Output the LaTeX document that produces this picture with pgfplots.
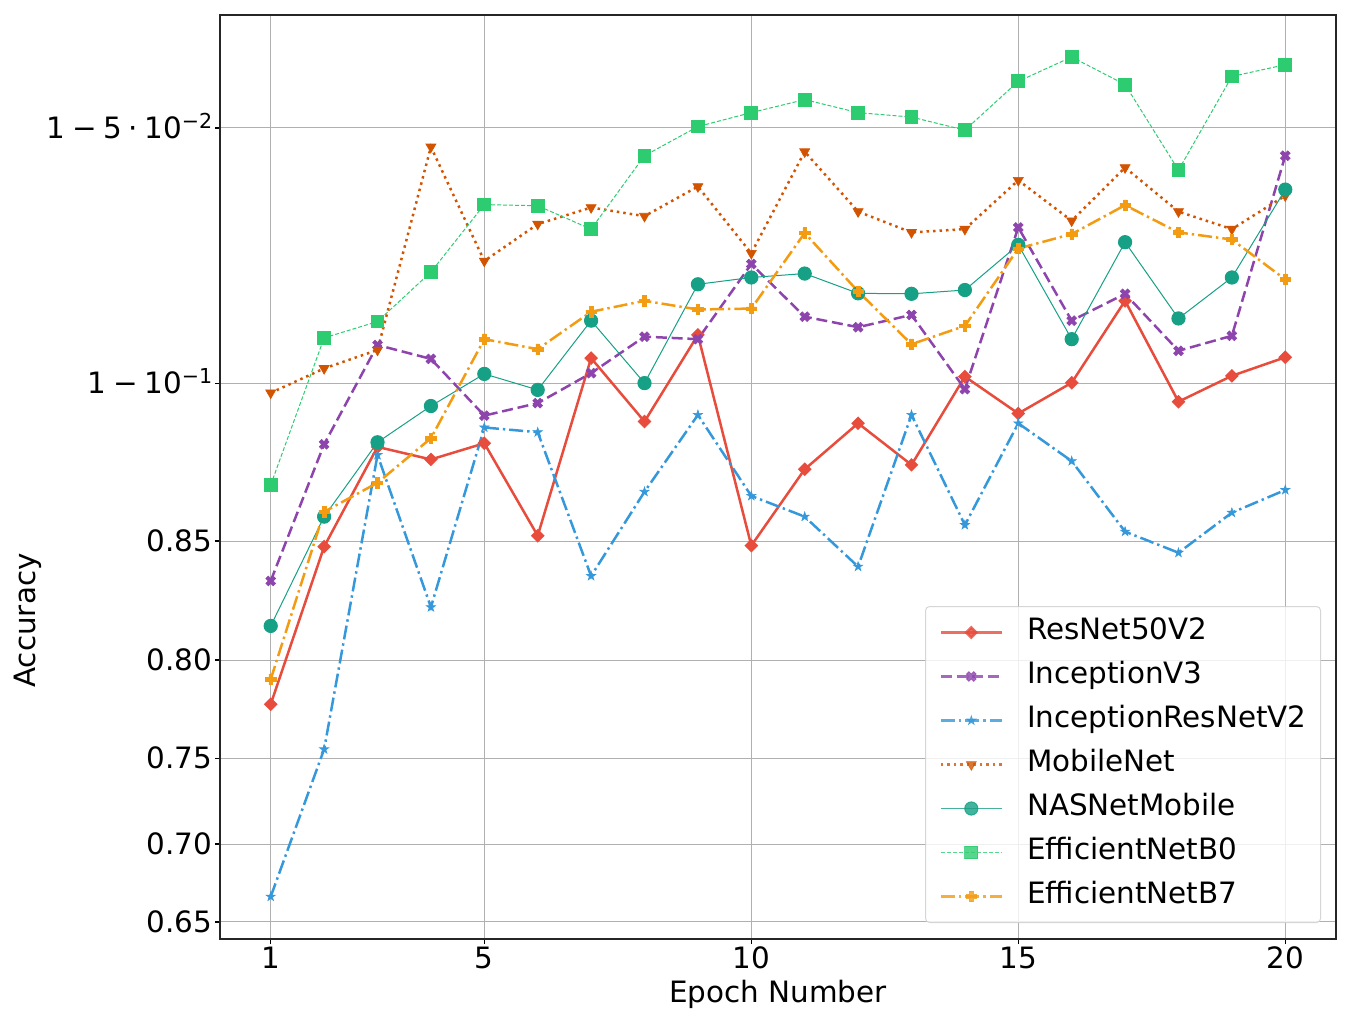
\documentclass[border=0pt]{standalone}
\usepackage{pgfplots}
\pgfplotsset{compat=1.18}
\usepackage{pgfplotstable}
\usepackage{fontspec}
\setmainfont{DejaVu Sans}
\usetikzlibrary{plotmarks}

\definecolor{cR}{RGB}{231,76,60}
\definecolor{cI}{RGB}{142,68,173}
\definecolor{cIR}{RGB}{52,152,219}
\definecolor{cM}{RGB}{211,84,0}
\definecolor{cN}{RGB}{22,160,133}
\definecolor{cB0}{RGB}{46,204,113}
\definecolor{cB7}{RGB}{243,156,18}
\definecolor{gridc}{RGB}{176,176,176}
\definecolor{legc}{RGB}{204,204,204}

\newcommand\sups[1]{\raisebox{5pt}{\fontsize{10.3}{12}\selectfont #1}}
\newcommand\ff{\fontsize{14.7}{17.6}\selectfont}
\newcommand\tsp{\hspace{3.3pt}}

\pgfdeclareplotmark{Pfill}{%
 \pgfpathmoveto{\pgfqpoint{-0.3333\pgfplotmarksize}{-\pgfplotmarksize}}%
 \pgfpathlineto{\pgfqpoint{-0.3333\pgfplotmarksize}{-0.3333\pgfplotmarksize}}%
 \pgfpathlineto{\pgfqpoint{-\pgfplotmarksize}{-0.3333\pgfplotmarksize}}%
 \pgfpathlineto{\pgfqpoint{-\pgfplotmarksize}{0.3333\pgfplotmarksize}}%
 \pgfpathlineto{\pgfqpoint{-0.3333\pgfplotmarksize}{0.3333\pgfplotmarksize}}%
 \pgfpathlineto{\pgfqpoint{-0.3333\pgfplotmarksize}{\pgfplotmarksize}}%
 \pgfpathlineto{\pgfqpoint{0.3333\pgfplotmarksize}{\pgfplotmarksize}}%
 \pgfpathlineto{\pgfqpoint{0.3333\pgfplotmarksize}{0.3333\pgfplotmarksize}}%
 \pgfpathlineto{\pgfqpoint{\pgfplotmarksize}{0.3333\pgfplotmarksize}}%
 \pgfpathlineto{\pgfqpoint{\pgfplotmarksize}{-0.3333\pgfplotmarksize}}%
 \pgfpathlineto{\pgfqpoint{0.3333\pgfplotmarksize}{-0.3333\pgfplotmarksize}}%
 \pgfpathlineto{\pgfqpoint{0.3333\pgfplotmarksize}{-\pgfplotmarksize}}%
 \pgfpathclose\pgfusepathqfillstroke}

\pgfdeclareplotmark{Sfill}{%
 \pgfpathmoveto{\pgfqpoint{0pt}{\pgfplotmarksize}}%
 \pgfpathlineto{\pgfqpoint{-0.2245\pgfplotmarksize}{0.3090\pgfplotmarksize}}%
 \pgfpathlineto{\pgfqpoint{-0.9511\pgfplotmarksize}{0.3090\pgfplotmarksize}}%
 \pgfpathlineto{\pgfqpoint{-0.3633\pgfplotmarksize}{-0.1180\pgfplotmarksize}}%
 \pgfpathlineto{\pgfqpoint{-0.5878\pgfplotmarksize}{-0.8090\pgfplotmarksize}}%
 \pgfpathlineto{\pgfqpoint{0pt}{-0.382\pgfplotmarksize}}%
 \pgfpathlineto{\pgfqpoint{0.5878\pgfplotmarksize}{-0.8090\pgfplotmarksize}}%
 \pgfpathlineto{\pgfqpoint{0.3633\pgfplotmarksize}{-0.1180\pgfplotmarksize}}%
 \pgfpathlineto{\pgfqpoint{0.9511\pgfplotmarksize}{0.3090\pgfplotmarksize}}%
 \pgfpathlineto{\pgfqpoint{0.2245\pgfplotmarksize}{0.3090\pgfplotmarksize}}%
 \pgfpathclose\pgfusepathqfillstroke}

\pgfplotstableread{
ep R I IR M N B0 B7
1 0.7785 0.8345 0.6667 0.8974 0.8155 0.8698 0.7908
2 0.8479 0.8827 0.7549 0.9038 0.8589 0.9113 0.8606
3 0.8819 0.9096 0.8794 0.9084 0.8833 0.9151 0.8705
4 0.8780 0.9062 0.8236 0.9473 0.8938 0.9257 0.8845
5 0.8830 0.8911 0.8877 0.9279 0.9024 0.9382 0.9110
6 0.8520 0.8946 0.8863 0.9348 0.8982 0.9380 0.9086
7 0.9064 0.9026 0.8365 0.9377 0.9153 0.9339 0.9173
8 0.8894 0.9116 0.8675 0.9362 0.9000 0.9460 0.9197
9 0.9120 0.9110 0.8913 0.9412 0.9232 0.9502 0.9178
10 0.8483 0.9273 0.8661 0.9294 0.9246 0.9521 0.9180
11 0.8749 0.9162 0.8589 0.9466 0.9254 0.9538 0.9332
12 0.8889 0.9138 0.8402 0.9370 0.9213 0.9521 0.9217
13 0.8763 0.9166 0.8913 0.9333 0.9212 0.9515 0.9098
14 0.9017 0.8984 0.8559 0.9339 0.9220 0.9497 0.9141
15 0.8917 0.9342 0.8889 0.9422 0.9310 0.9561 0.9303
16 0.9001 0.9153 0.8775 0.9354 0.9110 0.9590 0.9330
17 0.9197 0.9212 0.8535 0.9442 0.9315 0.9557 0.9381
18 0.8950 0.9082 0.8456 0.9370 0.9158 0.9438 0.9333
19 0.9019 0.9118 0.8603 0.9339 0.9246 0.9567 0.9320
20 0.9066 0.9460 0.8681 0.9397 0.9407 0.9581 0.9242
}\acc

\begin{document}
\begin{tikzpicture}
\path[use as bounding box] (-110pt,-39pt) rectangle (566.5pt,469.5pt);
\begin{axis}[
  at={(0pt,0pt)}, anchor=south west,
  scale only axis, width=558pt, height=462pt,
  xmin=0.05, xmax=20.95,
  ymin=0.5692, ymax=3.2753,
  xtick={1,5,10,15,20},
  xticklabels={1,5,10,15,20},
  ytick={0.61904,0.84730,1.09861,1.38629,1.73460,2.19722,2.94444},
  yticklabels={0.65,0.70,0.75,0.80,0.85,{1\tsp−\tsp10\sups{−1}},{1\tsp−\tsp5\tsp·\tsp10\sups{−2}}},
  tick pos=left,
  tick align=outside,
  major tick length=2.25pt,
  tick style={black, line width=0.6pt},
  axis line style={line width=0.6pt, black!85},
  grid=major,
  major grid style={color=gridc, line width=0.5pt},
  tick label style={font=\ff},
  yticklabel style={anchor=base east, inner sep=0pt, xshift=-1.4pt, yshift=-5.35pt},
  xticklabel style={anchor=base, inner sep=0pt, yshift=-12.25pt},
  xlabel={Epoch Number},
  ylabel={Accuracy},
  every axis x label/.style={at={(axis description cs:0.5,-0.0682)}, anchor=base, font=\ff},
  every axis y label/.style={at={(axis description cs:-0.172,0.3447)}, anchor=center, rotate=90, font=\ff},
  legend image code/.code={\draw[mark repeat=2,mark phase=2] plot coordinates {(0pt,0pt)(15.25pt,0pt)(30.5pt,0pt)};},
  legend style={
    at={(0.9866,0.0173)}, anchor=south east,
    draw=legc, line width=0.5pt, rounded corners=2pt,
    fill=white, fill opacity=0.8, draw opacity=0.8, text opacity=1,
    font=\ff,
    inner xsep=7pt, inner ysep=6pt,
    row sep=8pt,
    nodes={inner sep=0pt, text height=10.7pt, text depth=3.3pt},
    /tikz/every odd column/.append style={column sep=12pt},
  },
  legend cell align=left,
]
\addplot[cR, line width=1.25pt, mark=square*, mark size=1.8pt, mark options={solid, rotate=45, fill=cR}]
  table[x=ep, y expr={ln(\thisrow{R}/(1-\thisrow{R}))}] {\acc};
\addlegendentry{ResNet50V2}
\addplot[cI, line width=1.25pt, dash pattern=on 5.5pt off 2.4pt, mark=Pfill, mark size=2.6pt, mark options={solid, rotate=45, fill=cI, line width=0.3pt}]
  table[x=ep, y expr={ln(\thisrow{I}/(1-\thisrow{I}))}] {\acc};
\addlegendentry{InceptionV3}
\addplot[cIR, line width=1.25pt, dash pattern=on 7pt off 2pt on 1.2pt off 2pt, mark=Sfill, mark size=2.4pt, mark options={solid, fill=cIR, line width=0.3pt}]
  table[x=ep, y expr={ln(\thisrow{IR}/(1-\thisrow{IR}))}] {\acc};
\addlegendentry{InceptionResNetV2}
\addplot[cM, line width=1.25pt, dash pattern=on 1.25pt off 2pt, mark=triangle*, mark size=2.9pt, mark options={solid, rotate=180, fill=cM, line width=0.3pt}]
  table[x=ep, y expr={ln(\thisrow{M}/(1-\thisrow{M}))}] {\acc};
\addlegendentry{MobileNet}
\addplot[cN, line width=0.5pt, mark=*, mark size=3.3pt, mark options={solid, fill=cN}]
  table[x=ep, y expr={ln(\thisrow{N}/(1-\thisrow{N}))}] {\acc};
\addlegendentry{NASNetMobile}
\addplot[cB0, line width=0.5pt, dash pattern=on 2pt off 1pt, mark=square*, mark size=3.2pt, mark options={solid, fill=cB0}]
  table[x=ep, y expr={ln(\thisrow{B0}/(1-\thisrow{B0}))}] {\acc};
\addlegendentry{EfficientNetB0}
\addplot[cB7, line width=1.25pt, dash pattern=on 7pt off 2pt on 1.2pt off 2pt, mark=Pfill, mark size=2.6pt, mark options={solid, fill=cB7, line width=0.3pt}]
  table[x=ep, y expr={ln(\thisrow{B7}/(1-\thisrow{B7}))}] {\acc};
\addlegendentry{EfficientNetB7}
\end{axis}
\end{tikzpicture}
\end{document}
